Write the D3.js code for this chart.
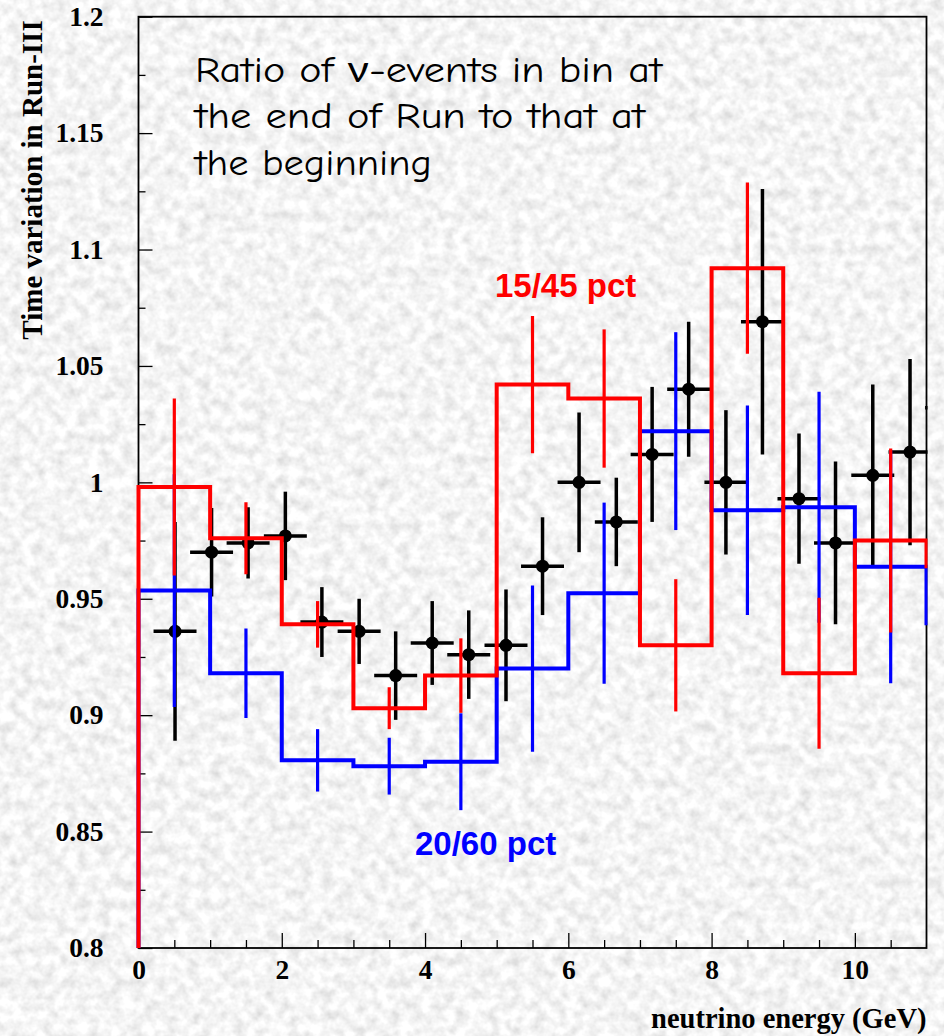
<!DOCTYPE html>
<html>
<head>
<meta charset="utf-8">
<script src="https://cdn.jsdelivr.net/npm/d3@7"></script>
<style>
  html, body { margin: 0; padding: 0; background: #e4e4e4; }
  svg { display: block; }
</style>
</head>
<body>
<svg id="chart" width="944" height="1036"></svg>
<script>
// Histogram bins: 1 GeV wide, lower edges (last bin runs past the frame and is clipped)
const binLow = [0, 1, 2, 3, 4, 5, 6, 7, 8, 9, 10, 11];

// 15/45 pct selection (red)
const ratio1545 = [0.998, 0.976, 0.939, 0.903, 0.917, 1.042, 1.036, 0.930, 1.092, 0.918, 0.975, 0.964];
const err1545   = [0.038, 0.0155, 0.010, 0.009, 0.016, 0.0295, 0.0297, 0.0284, 0.0368, 0.0324, 0.0395, 0.040];

// 20/60 pct selection (blue)
const ratio2060 = [0.9535, 0.918, 0.8806, 0.8781, 0.880, 0.920, 0.9524, 1.022, 0.988, 0.9893, 0.9637, 0.9395];
const err2060   = [0.050, 0.0192, 0.0134, 0.0122, 0.0208, 0.0357, 0.0389, 0.0425, 0.045, 0.0496, 0.050, 0.050];

// Finer-binned ratio (black points)
const ptEnergy = [0.51, 1.02, 1.53, 2.05, 2.56, 3.08, 3.59, 4.10, 4.61, 5.13, 5.64,
                  6.15, 6.67, 7.17, 7.68, 8.20, 8.71, 9.22, 9.73, 10.25, 10.77, 11.28];
const ptRatio  = [0.936, 0.970, 0.974, 0.977, 0.940, 0.936, 0.917, 0.931, 0.926, 0.930, 0.964,
                  1.000, 0.983, 1.012, 1.040, 1.000, 1.069, 0.993, 0.974, 1.003, 1.013, 1.032];
const ptErr    = [0.047, 0.019, 0.0153, 0.019, 0.015, 0.014, 0.019, 0.018, 0.019, 0.024, 0.021,
                  0.030, 0.019, 0.029, 0.029, 0.031, 0.057, 0.028, 0.035, 0.039, 0.040, 0.040];
const ptHalfWidth = 0.3;

// Axis ticks
const xMajor = [0, 2, 4, 6, 8, 10];
const xMinor = [0.5, 1, 1.5, 2.5, 3, 3.5, 4.5, 5, 5.5, 6.5, 7, 7.5, 8.5, 9, 9.5, 10.5];
const yMajor = [0.8, 0.85, 0.9, 0.95, 1.0, 1.05, 1.1, 1.15, 1.2];
const yMinor = [0.825, 0.875, 0.925, 0.975, 1.025, 1.075, 1.125, 1.175];
const yLabels = ["0.8", "0.85", "0.9", "0.95", "1", "1.05", "1.1", "1.15", "1.2"];

const noteLines = ["Ratio of \u03bd-events in bin at", "the end of Run to that at", "the beginning"];

const svg = d3.select("#chart");
const W = 944, H = 1036;
const plotLeft = 138.5, plotRight = 926.5, plotTop = 16.7, plotBottom = 948;

const x = d3.scaleLinear().domain([0, 11]).range([plotLeft, plotRight]);
const y = d3.scaleLinear().domain([0.8, 1.2]).range([plotBottom, plotTop]);

// Granite-like grey background
const defs = svg.append("defs");
const grain = defs.append("filter").attr("id", "grain")
  .attr("filterUnits", "userSpaceOnUse")
  .attr("x", 0).attr("y", 0).attr("width", W).attr("height", H);
grain.append("feTurbulence").attr("type", "fractalNoise")
  .attr("baseFrequency", "0.09").attr("numOctaves", 3).attr("seed", 7).attr("result", "n");
grain.append("feColorMatrix").attr("type", "matrix")
  .attr("values", "0.5 0 0 0 0.66  0.5 0 0 0 0.66  0.5 0 0 0 0.66  0 0 0 0 1");
svg.append("rect").attr("width", W).attr("height", H).attr("fill", "#e4e4e4");
svg.append("rect").attr("width", W).attr("height", H).attr("filter", "url(#grain)");

defs.append("clipPath").attr("id", "plotClip")
  .append("rect")
  .attr("x", plotLeft - 3).attr("y", plotTop)
  .attr("width", plotRight - plotLeft + 4).attr("height", plotBottom - plotTop + 3);

const serif = "'Liberation Serif', 'Times New Roman', Times, serif";
const sans = "'Liberation Sans', Arial, Helvetica, sans-serif";

// Axes (ticks pointing inward)
const xAxisMajor = d3.axisBottom(x).tickValues(xMajor).tickSize(-15).tickPadding(11)
  .tickFormat(d3.format("d"));
const xAxisMinor = d3.axisBottom(x).tickValues(xMinor).tickSize(-8).tickFormat("");
const yAxisMajor = d3.axisLeft(y).tickValues(yMajor).tickSize(-14).tickPadding(35)
  .tickFormat((d, i) => yLabels[i]);
const yAxisMinor = d3.axisLeft(y).tickValues(yMinor).tickSize(-7).tickFormat("");

function styleAxis(g) {
  g.select(".domain").remove();
  g.selectAll(".tick line").attr("stroke", "#000").attr("stroke-width", 1.3);
  g.selectAll(".tick text")
    .attr("fill", "#000")
    .style("font-family", serif)
    .style("font-weight", "bold")
    .style("font-size", "27.5px");
}

svg.append("g").attr("transform", `translate(0,${plotBottom})`).call(xAxisMajor).call(styleAxis);
svg.append("g").attr("transform", `translate(0,${plotBottom})`).call(xAxisMinor).call(styleAxis);
svg.append("g").attr("transform", `translate(${plotLeft},0)`).call(yAxisMajor).call(styleAxis);
svg.append("g").attr("transform", `translate(${plotLeft},0)`).call(yAxisMinor).call(styleAxis);

// Frame
svg.append("rect")
  .attr("x", plotLeft).attr("y", plotTop)
  .attr("width", plotRight - plotLeft).attr("height", plotBottom - plotTop)
  .attr("fill", "none").attr("stroke", "#000").attr("stroke-width", 1.8);

// Axis titles
svg.append("text")
  .attr("x", plotRight).attr("y", 1028)
  .attr("text-anchor", "end")
  .style("font-family", serif).style("font-weight", "bold").style("font-size", "28.5px")
  .text("neutrino energy (GeV)");

svg.append("text")
  .attr("transform", "translate(42,180) rotate(-90)")
  .attr("text-anchor", "middle")
  .style("font-family", serif).style("font-weight", "bold").style("font-size", "29px")
  .text("Time variation in Run-III");

const plot = svg.append("g").attr("clip-path", "url(#plotClip)");

// Black points with error bars
const pts = ptEnergy.map((e, i) => ({ e, v: ptRatio[i], err: ptErr[i] }));
const blk = plot.append("g");
blk.selectAll("line.v").data(pts).join("line").attr("class", "v")
  .attr("x1", d => x(d.e)).attr("x2", d => x(d.e))
  .attr("y1", d => y(d.v - d.err)).attr("y2", d => y(d.v + d.err))
  .attr("stroke", "#000").attr("stroke-width", 3.5);
blk.selectAll("line.h").data(pts).join("line").attr("class", "h")
  .attr("x1", d => x(d.e - ptHalfWidth)).attr("x2", d => x(d.e + ptHalfWidth))
  .attr("y1", d => y(d.v)).attr("y2", d => y(d.v))
  .attr("stroke", "#000").attr("stroke-width", 3.5);
blk.selectAll("circle").data(pts).join("circle")
  .attr("cx", d => x(d.e)).attr("cy", d => y(d.v)).attr("r", 6.5)
  .attr("fill", "#000");

// Step histogram with error bars at bin centres
const stepLine = d3.line().x(d => x(d[0])).y(d => y(d[1]));
function drawHist(values, errs, colour) {
  const g = plot.append("g");
  const pathPts = [[binLow[0], 0.8]];
  values.forEach((v, i) => {
    pathPts.push([binLow[i], v]);
    pathPts.push([binLow[i] + 1, v]);
  });
  pathPts.push([binLow[binLow.length - 1] + 1, 0.8]);
  g.append("path").attr("d", stepLine(pathPts))
    .attr("fill", "none").attr("stroke", colour).attr("stroke-width", 4)
    .attr("stroke-linejoin", "miter");
  const bars = values.map((v, i) => ({ c: binLow[i] + 0.5, v, e: errs[i] }));
  g.selectAll("line").data(bars).join("line")
    .attr("x1", d => x(d.c)).attr("x2", d => x(d.c))
    .attr("y1", d => y(d.v - d.e)).attr("y2", d => y(d.v + d.e))
    .attr("stroke", colour).attr("stroke-width", 3.2);
}
drawHist(ratio2060, err2060, "#0000ff");
drawHist(ratio1545, err1545, "#ff0000");

// Labels
svg.append("text").attr("x", 495).attr("y", 297)
  .style("font-family", sans).style("font-weight", "bold").style("font-size", "33px")
  .attr("fill", "#ff0000").text("15/45 pct");
svg.append("text").attr("x", 415).attr("y", 855)
  .style("font-family", sans).style("font-weight", "bold").style("font-size", "33px")
  .attr("fill", "#0000ff").text("20/60 pct");

const noteWidths = [467, 450, 237];
const noteBase = [81.7, 128.3, 175];
svg.append("g").selectAll("text").data(noteLines).join("text")
  .attr("x", 195).attr("y", (d, i) => noteBase[i])
  .attr("textLength", (d, i) => noteWidths[i])
  .attr("lengthAdjust", "spacingAndGlyphs")
  .style("font-family", "'Comic Sans MS', 'Comic Neue', Lato, 'DejaVu Sans', sans-serif")
  .style("font-size", "36px")
  .attr("fill", "#000")
  .text(d => d);
</script>
</body>
</html>
